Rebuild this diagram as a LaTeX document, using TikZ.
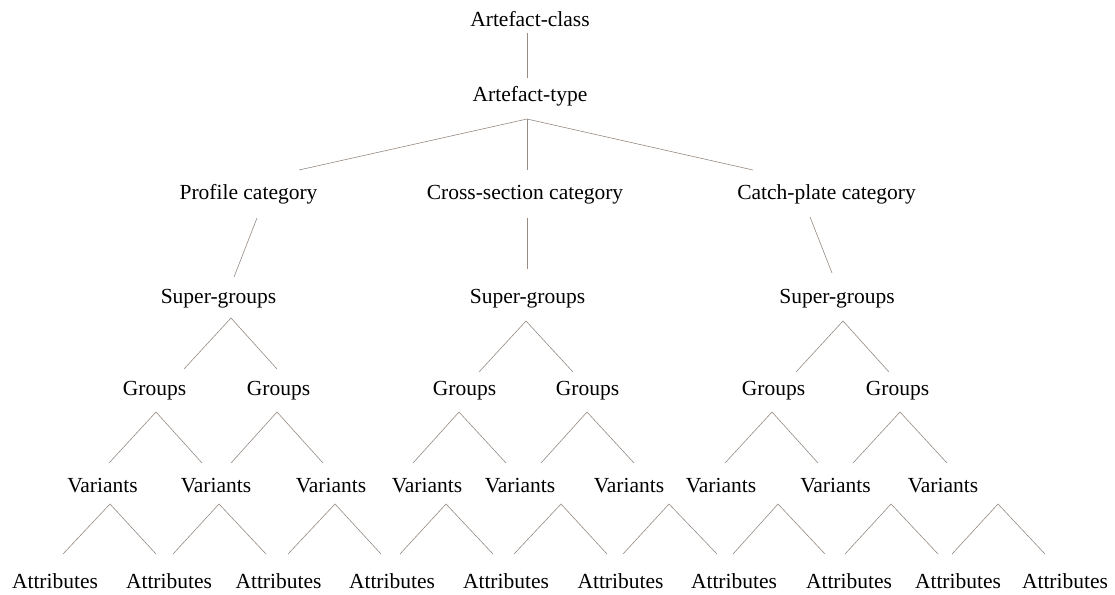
\documentclass[tikz,border=0pt]{standalone}
\usepackage{fontspec}
\setmainfont{Liberation Serif}
\definecolor{linkc}{RGB}{150,138,130}
\tikzset{
  lbl/.style={inner sep=0pt, anchor=base, font=\fontsize{21.5}{24}\selectfont, text=black},
  link/.style={draw=linkc, line width=0.6pt}
}
\begin{document}
\begin{tikzpicture}[x=1pt,y=-1pt]
\useasboundingbox (0,0) rectangle (1115,594);
% level texts
\node[lbl] (ac) at (530,27) {Artefact-class};
\node[lbl] (at) at (530,101) {Artefact-type};
\node[lbl] (cp) at (248.5,199) {Profile category};
\node[lbl] (cc) at (525,199) {Cross-section category};
\node[lbl] (ck) at (826.5,199) {Catch-plate category};
\node[lbl] (s1) at (218.5,303) {Super-groups};
\node[lbl] (s2) at (527.5,303) {Super-groups};
\node[lbl] (s3) at (837,303) {Super-groups};
\foreach \n/\x in {1/154.5,2/278.5,3/464.5,4/587.5,5/773.5,6/897.5}
  \node[lbl] (g\n) at (\x,395) {Groups};
\foreach \n/\x in {1/102.5,2/216,3/331,4/427,5/520,6/629,7/721,8/835.5,9/943}
  \node[lbl] (v\n) at (\x,492) {Variants};
\foreach \n/\x in {1/55,2/169,3/278.5,4/392,5/506,6/620.5,7/734,8/849,9/958,10/1065}
  \node[lbl] (a\n) at (\x,588) {Attributes};
% connector points
\coordinate (acb) at (527,33);
\coordinate (att) at (527,78);
\coordinate (atb) at (527,119);
\coordinate (cpt) at (299,170);
\coordinate (cct) at (527,170);
\coordinate (ckt) at (753,170);
\coordinate (cpb) at (257,218);
\coordinate (ccb) at (527,218);
\coordinate (ckb) at (810,217);
\coordinate (s1t) at (234,277);
\coordinate (s2t) at (527,269);
\coordinate (s3t) at (832,273);
\draw[link] (acb) -- (att);
\draw[link] (cpt) -- (atb) -- (ckt);
\draw[link] (atb) -- (cct);
\draw[link] (cpb) -- (s1t);
\draw[link] (ccb) -- (s2t);
\draw[link] (ckb) -- (s3t);
% super-groups to groups
\foreach \n/\ax/\ay/\l/\r/\by in {1/231/318/184/277/369, 2/526/321/479/573/372, 3/843/321/796/889/372}{
  \coordinate (s\n b) at (\ax,\ay);
  \coordinate (s\n l) at (\l,\by);
  \coordinate (s\n r) at (\r,\by);
  \draw[link] (s\n l) -- (s\n b) -- (s\n r);
}
% groups to variants
\foreach \n/\ax/\l/\r in {1/156/109/202, 2/277/231/323, 3/459/413/506, 4/587/541/634, 5/772/725/818, 6/900/853/947}{
  \coordinate (g\n b) at (\ax,412);
  \coordinate (g\n l) at (\l,463);
  \coordinate (g\n r) at (\r,463);
  \draw[link] (g\n l) -- (g\n b) -- (g\n r);
}
% variants to attributes
\foreach \n/\ax/\l/\r in {1/110/63/156, 2/219/173/266, 3/335/288/381, 4/446/400/493, 5/561/514/607, 6/669/623/717, 7/778/733/825, 8/891/845/938, 9/998/952/1045}{
  \coordinate (v\n b) at (\ax,504);
  \coordinate (v\n l) at (\l,554);
  \coordinate (v\n r) at (\r,554);
  \draw[link] (v\n l) -- (v\n b) -- (v\n r);
}
\end{tikzpicture}
\end{document}
